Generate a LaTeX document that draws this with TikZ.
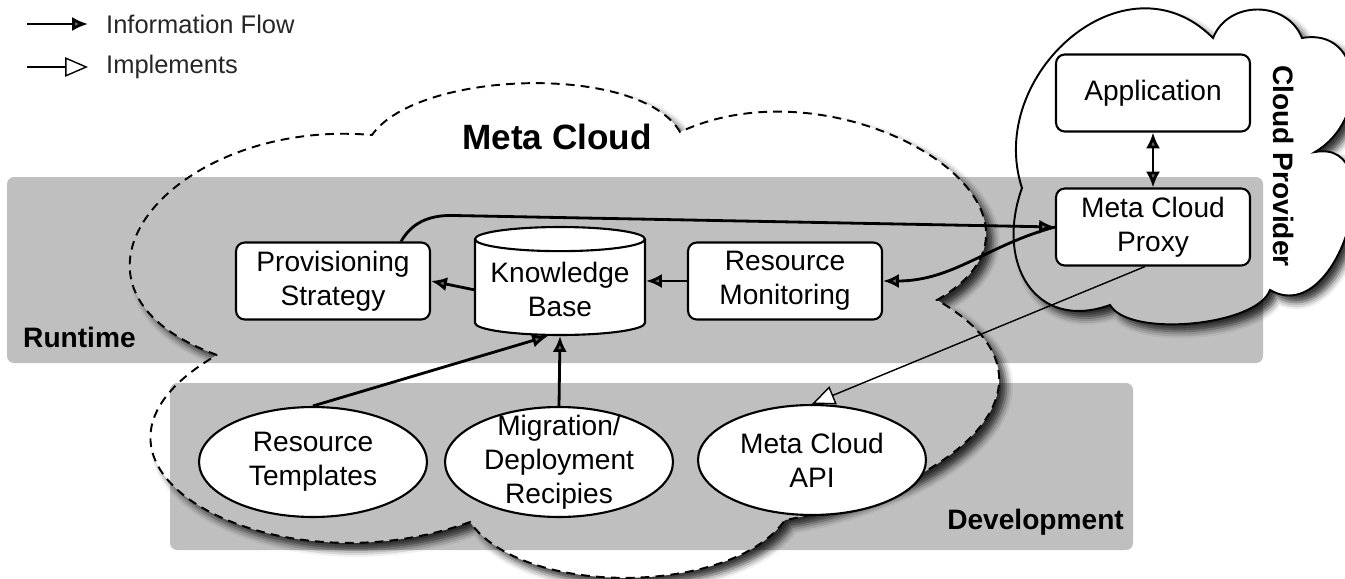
\documentclass[tikz,border=0pt]{standalone}
\usepackage{fontspec}
\setmainfont{Liberation Sans}
\usetikzlibrary{shapes.geometric,arrows.meta,shadows.blur}

\tikzset{
  txt/.style={font=\fontsize{16}{19.5}\selectfont, align=center},
  box/.style={txt, draw, line width=1.2pt, rounded corners=5pt, fill=white,
    minimum width=3.88cm, minimum height=1.54cm},
  store/.style={txt, cylinder, shape border rotate=90, aspect=0.16, draw,
    line width=1.2pt, fill=white, minimum width=3.4cm, minimum height=2.16cm},
  blob/.style={txt, ellipse, draw, line width=1.2pt, fill=white,
    minimum width=4.56cm, minimum height=2.2cm, inner xsep=0pt, inner ysep=-6pt},
  flow/.style={line width=1.6pt, -{Latex[length=9pt,width=8pt]}},
  flowboth/.style={line width=1.6pt, {Latex[length=9pt,width=8pt]}-{Latex[length=9pt,width=8pt]}},
  impl/.style={line width=0.8pt, -{Triangle[open,length=13pt,width=11pt,fill=white]}},
  band/.style={fill=black, fill opacity=0.25, rounded corners=4pt},
  cloudshadow/.style={blur shadow={shadow xshift=4pt, shadow yshift=-4pt,
    shadow blur radius=4pt, shadow opacity=80}},
  title/.style={font=\bfseries\fontsize{16}{19}\selectfont},
  legend/.style={font=\fontsize{14.5}{17}\selectfont, text=black!85}
}

\begin{document}
\begin{tikzpicture}[x=0.02cm, y=0.02cm]
  \useasboundingbox (0,0) rectangle (1345,-578);

  % Meta Cloud outline
  \draw[fill=white, cloudshadow, line width=1.1pt, dash pattern=on 5pt off 3.5pt]
    (217,-355) to[out=160,in=175,looseness=1.9] (372,-135)
    to[out=55,in=120,looseness=0.66] (680,-132)
    to[out=25,in=30,looseness=1.5] (937,-300)
    to[out=-30,in=10,looseness=1.6] (785,-520)
    to[out=235,in=-55,looseness=0.75] (470,-522)
    to[out=200,in=210,looseness=1.8] cycle;

  % Cloud Provider outline
  \draw[fill=white, cloudshadow, line width=1.1pt]
    (1022,-188) .. controls (985,-75) and (1125,50) .. (1213,-38)
    .. controls (1228,0) and (1287,0) .. (1302,-38)
    .. controls (1364,-27) and (1370,-120) .. (1315,-152)
    .. controls (1393,-138) and (1339,-330) .. (1270,-290)
    .. controls (1257,-326) and (1129,-338) .. (1110,-305)
    .. controls (1035,-332) and (995,-263) .. cycle;

  % Runtime and development bands
  \fill[band] (7,-177) rectangle (1263,-363);
  \fill[band] (170,-383) rectangle (1133,-550);

  % Labels
  \node[font=\bfseries\fontsize{20}{24}\selectfont] (metalbl) at (557,-137) {Meta Cloud};
  \node[title, anchor=west] (runlbl) at (17,-337) {Runtime};
  \node[title, anchor=east] (devlbl) at (1130,-522) {Development};
  \node[title, rotate=-90] (provlbl) at (1284,-166) {Cloud Provider};

  % Components
  \node[box] (app) at (1153,-93) {Application};
  \node[box] (proxy) at (1153,-227) {Meta Cloud\\Proxy};
  \node[box] (prov) at (333,-281) {Provisioning\\Strategy};
  \node[store, anchor=shape center] (kb) at (560,-281) {Knowledge\\Base};
  \node[box] (mon) at (785,-281) {Resource\\Monitoring};
  \node[blob] (templ) at (313,-462) {Resource\\Templates};
  \node[blob] (recipe) at (559,-462) {Migration/\\Deployment\\Recipies};
  \node[blob] (api) at (812,-460) {Meta Cloud\\API};

  % Information flow
  \draw[flowboth] (app) -- (proxy);
  \draw[flow] ([xshift=-0.6cm]prov.north east) to[out=60,in=180] ++(50,26) -- (proxy.west);
  \draw[flow] (proxy.west) to[out=195,in=0] (mon.east);
  \draw[flow] (mon.west) -- (mon.west -| kb.east);
  \draw[flow] (kb.west) -- (prov.east);
  \draw[flow] (templ.north) -- ([xshift=-0.24cm]kb.south);
  \draw[flow] (recipe.north) -- (kb.south);

  % Implements
  \draw[impl] ([xshift=-0.16cm]proxy.south) -- (api.north);

  % Legend
  \coordinate (flowa) at (27,-24);
  \coordinate (flowb) at (88,-24);
  \coordinate (impla) at (27,-67);
  \coordinate (implb) at (88,-67);
  \draw[flow] (flowa) -- (flowb);
  \draw[impl] (impla) -- (implb);
  \node[legend, anchor=west] (flowlbl) at (100,-24) {Information Flow};
  \node[legend, anchor=west] (impllbl) at (100,-67) {Implements};
\end{tikzpicture}
\end{document}
